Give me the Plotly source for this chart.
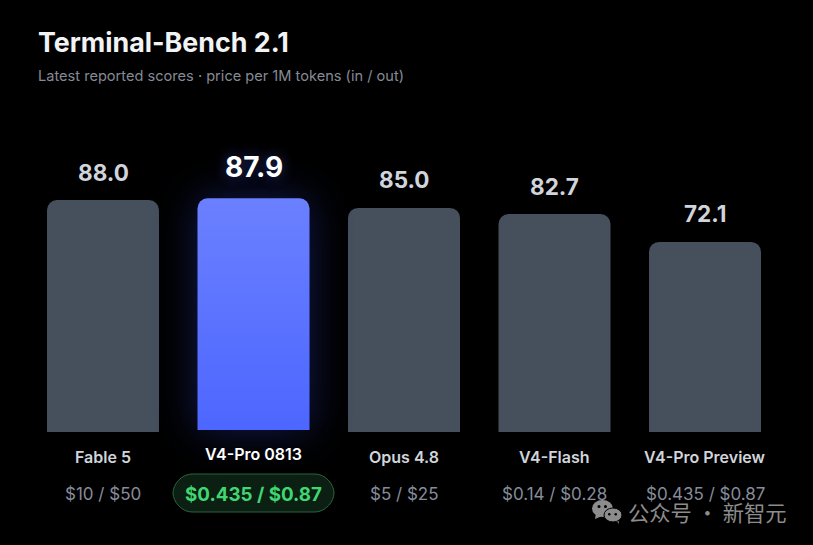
import plotly.graph_objects as go

# data
models = ["Fable 5", "V4-Pro 0813", "Opus 4.8", "V4-Flash", "V4-Pro Preview"]
scores = [88.0, 87.9, 85.0, 82.7, 72.1]
prices = ["$10 / $50", "$0.435 / $0.87", "$5 / $25", "$0.14 / $0.28", "$0.435 / $0.87"]
highlight = 1

W, H = 813, 545
FONT = "Inter, 'Liberation Sans', sans-serif"
GRAY_BAR = "#464f5c"
WATERMARK = "#8c8c8c"

# axes fill the whole page, so paper coords are just pixel fractions
PX_PER_SCORE = 2.636
STEP = 150.5
X0 = 103
Y0 = 432
LIFT = 2  # the highlighted bar sits 2px higher than the others


def px(x):
	return x / W


def py(y):
	return 1 - y / H


def pill_path(x0, y0, x1, y1):
	r = (y1 - y0) / 2
	return (f"M {px(x0 + r)} {py(y0)} L {px(x1 - r)} {py(y0)} "
		f"C {px(x1 - r * 0.45)} {py(y0)} {px(x1)} {py(y0 + r * 0.55)} {px(x1)} {py(y0 + r)} "
		f"C {px(x1)} {py(y1 - r * 0.55)} {px(x1 - r * 0.45)} {py(y1)} {px(x1 - r)} {py(y1)} "
		f"L {px(x0 + r)} {py(y1)} "
		f"C {px(x0 + r * 0.45)} {py(y1)} {px(x0)} {py(y1 - r * 0.55)} {px(x0)} {py(y0 + r)} "
		f"C {px(x0)} {py(y0 + r * 0.55)} {px(x0 + r * 0.45)} {py(y0)} {px(x0 + r)} {py(y0)} Z")


def circle(x0, y0, x1, y1, color, line=None):
	return dict(type="circle", xref="paper", yref="paper", x0=px(x0), x1=px(x1), y0=py(y1), y1=py(y0),
		fillcolor=color, line=dict(color=line or color, width=1 if line else 0), layer="above")


def text(x, y, s, size, color, weight=400, anchor="center"):
	font = dict(family=FONT, size=size, color=color, weight=weight)
	return dict(xref="paper", yref="paper", x=px(x), y=py(y), text=s, showarrow=False,
		xanchor=anchor, yanchor="middle", font=font)


others = [i for i in range(len(models)) if i != highlight]

fig = go.Figure()
fig.add_trace(go.Bar(
	x=others,
	y=[scores[i] for i in others],
	width=112 / STEP,
	marker=dict(color=GRAY_BAR, line=dict(width=0), cornerradius=10),
	hoverinfo="skip",
))
fig.add_trace(go.Bar(
	x=[highlight],
	y=[scores[highlight]],
	yaxis="y2",
	width=112 / STEP,
	marker=dict(color="#5a72ff", line=dict(width=0), cornerradius=10),
	hoverinfo="skip",
))

annotations = [
	text(36, 42, "Terminal-Bench 2.1", 26.8, "#f1f3f5", 700, "left"),
	text(36, 76, "Latest reported scores · price per 1M tokens (in / out)", 14.6, "#858b96", 400, "left"),
]
for i, (model, score, price) in enumerate(zip(models, scores, prices)):
	on = i == highlight
	annotations.append(dict(
		x=i, y=score, xref="x", yref="y2" if on else "y", yanchor="middle", showarrow=False,
		yshift=31 if on else 28, text=f"{score:.1f}",
		font=dict(family=FONT, size=28 if on else 22.5, weight=700, color="#ffffff" if on else "#d1d5db",
			shadow="0 0 14px rgba(90,114,255,0.45)" if on else "none"),
	))
	cx = X0 + STEP * i
	annotations.append(text(cx, 454 if on else 457, model, 16, "#ffffff" if on else "#d1d5db", 600))
	annotations.append(text(cx, 494, price, 18.8 if on else 17, "#40d672" if on else "#868c9b", 700 if on else 400))

annotations.append(text(626, 511, "公众号 · 新智元", 21.3, WATERMARK, 400, "left"))
annotations[-1]["font"]["family"] = "'Noto Sans CJK SC'"

shapes = [
	dict(type="path", xref="paper", yref="paper", path=pill_path(173, 474, 334, 512),
		fillcolor="#0b2013", line=dict(color="#2c6340", width=1), layer="below"),
	# wechat icon
	dict(type="path", xref="paper", yref="paper", layer="above", fillcolor=WATERMARK, line=dict(width=0),
		path=f"M {px(596)} {py(513)} L {px(595)} {py(519)} L {px(602)} {py(516)} Z"),
	circle(592, 500, 613, 517, WATERMARK),
	circle(597.5, 505, 600.5, 508, "#000000"),
	circle(604, 505, 607, 508, "#000000"),
	dict(type="path", xref="paper", yref="paper", layer="above", fillcolor=WATERMARK, line=dict(width=0),
		path=f"M {px(615)} {py(519)} L {px(619)} {py(524)} L {px(618)} {py(517)} Z"),
	circle(604, 508, 622, 522, WATERMARK, "#000000"),
	circle(608, 513, 610.5, 515.5, "#000000"),
	circle(614.5, 513, 617, 515.5, "#000000"),
]

fig.update_layout(
	width=W, height=H,
	margin=dict(l=0, r=0, t=0, b=0),
	paper_bgcolor="#000000", plot_bgcolor="#000000",
	showlegend=False,
	barmode="overlay",
	annotations=annotations,
	shapes=shapes,
	xaxis=dict(visible=False, range=[-X0 / STEP, (W - X0) / STEP]),
	yaxis=dict(visible=False, range=[-(H - Y0) / PX_PER_SCORE, Y0 / PX_PER_SCORE]),
	yaxis2=dict(visible=False, overlaying="y",
		range=[-(H - Y0 + LIFT) / PX_PER_SCORE, (Y0 - LIFT) / PX_PER_SCORE]),
)

# plotly bars have no gradient or glow, so add them to the svg after drawing
post_script = """
document.body.style.margin = '0';
document.body.style.background = '#000';
var svg = document.querySelector('svg.main-svg');
var ns = 'http://www.w3.org/2000/svg';
var defs = document.createElementNS(ns, 'defs');
var grad = document.createElementNS(ns, 'linearGradient');
grad.setAttribute('id', 'barGrad');
grad.setAttribute('x1', '0'); grad.setAttribute('y1', '0');
grad.setAttribute('x2', '0'); grad.setAttribute('y2', '1');
[['0', '#6b80ff'], ['1', '#4d66ff']].forEach(function (s) {
	var stop = document.createElementNS(ns, 'stop');
	stop.setAttribute('offset', s[0]);
	stop.setAttribute('stop-color', s[1]);
	grad.appendChild(stop);
});
defs.appendChild(grad);
svg.insertBefore(defs, svg.firstChild);
var paths = document.querySelectorAll('.barlayer .point path');
var bar = paths[paths.length - 1];
bar.style.fill = 'url(#barGrad)';
bar.style.filter = 'drop-shadow(0 0 20px rgba(60,85,255,0.3))';
"""

fig.write_html("out.html", post_script=post_script, config={"displayModeBar": False})
